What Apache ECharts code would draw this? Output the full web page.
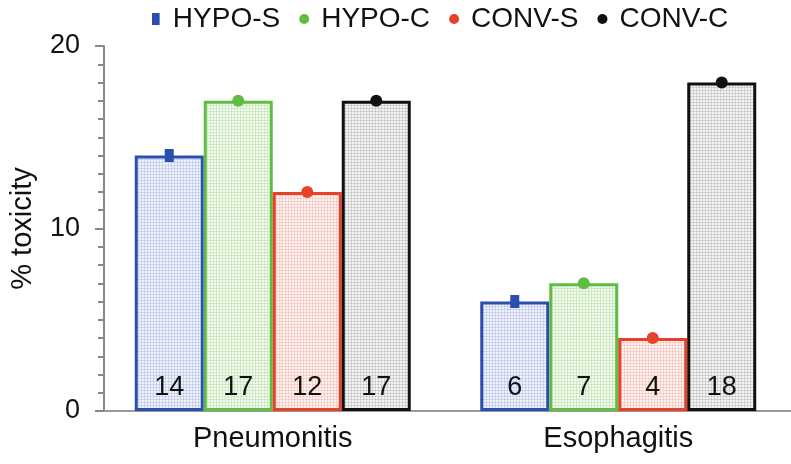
<!DOCTYPE html>
<html><head><meta charset="utf-8">
<script src="https://cdn.jsdelivr.net/npm/echarts@6/dist/echarts.min.js"></script>
<style>html,body{margin:0;padding:0;background:#fff}#c{width:791px;height:464px}</style>
</head><body><div id="c"></div>
<script>
const categories = ['Pneumonitis', 'Esophagitis'];
const seriesNames = ['HYPO-S', 'HYPO-C', 'CONV-S', 'CONV-C'];
const hypoS = [14, 6];
const hypoC = [17, 7];
const convS = [12, 4];
const convC = [17, 18];
const yTicks = [0, 10, 20];

const values = [hypoS, hypoC, convS, convC];
const edgeColors = ['#2b4fae', '#5fbd42', '#e6422b', '#111111'];
const fillBase = ['#eef0fb', '#f1f9ee', '#fdf0ee', '#f3f3f3'];
const fillLine = ['#d3d8f1', '#d6edcc', '#f8d7d1', '#d6d6d6'];
const fillCross = ['#bcc3e8', '#c2e2b5', '#f2c2ba', '#bdbdbd'];
const markerShapes = ['rect', 'circle', 'circle', 'circle'];
const markerSizes = [[9, 13], [12, 12], [12, 12], [12, 12]];
const FONT = '"Liberation Sans", Arial, Helvetica, sans-serif';

function pattern(base, line, cross) {
  const c = document.createElement('canvas');
  c.width = 3; c.height = 3;
  const g = c.getContext('2d');
  g.fillStyle = base; g.fillRect(0, 0, 3, 3);
  g.fillStyle = line; g.fillRect(0, 0, 3, 1); g.fillRect(0, 0, 1, 3);
  g.fillStyle = cross; g.fillRect(0, 0, 1, 1);
  return c;
}

const chart = echarts.init(document.getElementById('c'), null, {renderer: 'canvas'});
const series = [];
seriesNames.forEach((n, i) => {
  series.push({
    name: n, type: 'bar', data: values[i], barWidth: 69, barGap: '0%',
    itemStyle: {color: {image: pattern(fillBase[i], fillLine[i], fillCross[i]), repeat: 'repeat'}, borderColor: edgeColors[i], borderWidth: 3},
    label: {show: true, position: 'insideBottom', distance: 10, fontSize: 27, fontFamily: FONT, color: '#111'},
    z: 2
  });
});
seriesNames.forEach((n, i) => {
  series.push({
    name: n, type: 'pictorialBar', data: values[i], barWidth: 69, barGap: '0%',
    symbol: markerShapes[i], symbolSize: markerSizes[i], symbolPosition: 'end', symbolOffset: [0, '-50%'],
    itemStyle: {color: edgeColors[i]}, z: 5
  });
});

chart.setOption({
  animation: false,
  legend: {
    top: 0, left: 147, itemGap: 19, itemWidth: 10, itemHeight: 12,
    textStyle: {fontSize: 28, fontFamily: FONT, color: '#111', padding: [0, 0, 0, 7]},
    data: seriesNames.map((n, i) => ({
      name: n,
      icon: i === 0 ? 'path://M0,0h7v11h-7z' : 'circle',
      itemStyle: {color: edgeColors[i], borderWidth: 0}
    }))
  },
  grid: {left: 92, right: -3, top: 46, bottom: 53},
  xAxis: {
    type: 'category', data: categories,
    axisLine: {lineStyle: {color: '#999', width: 2}},
    axisTick: {alignWithLabel: true, length: 9, lineStyle: {color: '#999', width: 2}},
    axisLabel: {fontSize: 29, fontFamily: FONT, color: '#111', margin: 13}
  },
  yAxis: {
    type: 'value', min: yTicks[0], max: yTicks[yTicks.length - 1], interval: yTicks[1] - yTicks[0],
    offset: -4,
    name: '% toxicity', nameLocation: 'middle', nameGap: 67,
    nameTextStyle: {fontSize: 29, fontFamily: FONT, color: '#111'},
    axisLine: {show: true, lineStyle: {color: '#888', width: 2}},
    axisTick: {show: true, length: 9, lineStyle: {color: '#888', width: 2}},
    minorTick: {show: true, splitNumber: 10, length: 6, lineStyle: {color: '#888', width: 2}},
    splitLine: {show: false},
    axisLabel: {fontSize: 27, fontFamily: FONT, color: '#111', margin: 24}
  },
  series: series
});
</script></body></html>
